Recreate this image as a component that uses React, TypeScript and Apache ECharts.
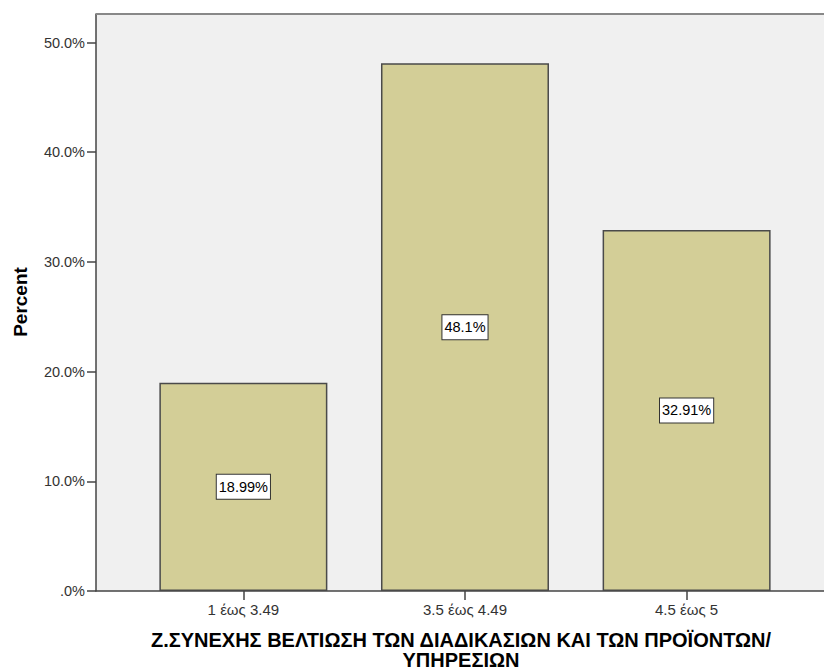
import React, { useEffect, useRef } from "react";
import * as echarts from "echarts";

const categories = ["1 έως 3.49", "3.5 έως 4.49", "4.5 έως 5"];
const percentValues = [18.99, 48.1, 32.91];
const valueLabels = ["18.99%", "48.1%", "32.91%"];
const xTitle = "Ζ.ΣΥΝΕΧΗΣ ΒΕΛΤΙΩΣΗ ΤΩΝ ΔΙΑΔΙΚΑΣΙΩΝ ΚΑΙ ΤΩΝ ΠΡΟΪΟΝΤΩΝ/\nΥΠΗΡΕΣΙΩΝ";
const yTitle = "Percent";

const FONT = "'Liberation Sans', Arial, sans-serif";

export default function App() {
  const ref = useRef<HTMLDivElement>(null);

  useEffect(() => {
    if (!ref.current) return;
    const chart = echarts.init(ref.current, undefined, { renderer: "svg" });
    const positions = categories.map((_, i) => i + 1);
    chart.setOption({
      animation: false,
      grid: {
        left: 96,
        right: -3,
        top: 14,
        bottom: 80,
        show: true,
        backgroundColor: "#f0f0f0",
        borderWidth: 0,
      },
      xAxis: {
        type: "value",
        min: 0.335,
        max: 3.62,
        splitLine: { show: false },
        axisLine: { show: true, lineStyle: { color: "#444", width: 1.5 } },
        axisTick: {
          show: true,
          customValues: positions,
          length: 9,
          lineStyle: { color: "#444", width: 1.5 },
        },
        axisLabel: {
          customValues: positions,
          formatter: (v: number) => categories[Math.round(v) - 1] ?? "",
          color: "#333",
          fontFamily: FONT,
          fontSize: 15,
          margin: 11,
        },
      },
      yAxis: {
        type: "value",
        min: 0,
        max: 52.6,
        interval: 10,
        splitLine: { show: false },
        axisLine: { show: true, lineStyle: { color: "#444", width: 1.5 } },
        axisTick: {
          show: true,
          length: 9,
          lineStyle: { color: "#444", width: 1.5 },
        },
        axisLabel: {
          showMaxLabel: false,
          formatter: (v: number) => (v === 0 ? ".0%" : v.toFixed(1) + "%"),
          color: "#333",
          fontFamily: FONT,
          fontSize: 14.5,
          margin: 11,
        },
      },
      series: [
        {
          type: "bar",
          barWidth: 168,
          data: percentValues.map((v, i) => [positions[i], v]),
          itemStyle: {
            color: "#d3ce97",
            borderColor: "#4a4a4a",
            borderWidth: 1.5,
          },
          label: {
            show: true,
            position: "inside",
            formatter: (p: any) => valueLabels[p.dataIndex],
            color: "#000",
            fontFamily: FONT,
            fontSize: 14.5,
            backgroundColor: "#fff",
            borderColor: "#333",
            borderWidth: 1,
            padding: [5, 2, 4, 2],
          },
        },
      ],
      graphic: [
        {
          type: "line",
          shape: { x1: 96, y1: 14, x2: 824, y2: 14 },
          style: { stroke: "#888", lineWidth: 2 },
          z: 10,
        },
        {
          type: "text",
          x: 461,
          y: 630,
          style: {
            text: xTitle,
            fontFamily: FONT,
            fontSize: 20,
            fontWeight: "bold",
            fill: "#000",
            textAlign: "center",
            lineHeight: 20,
          },
        },
        {
          type: "text",
          x: 20,
          y: 302,
          rotation: Math.PI / 2,
          style: {
            text: yTitle,
            fontFamily: FONT,
            fontSize: 19,
            fontWeight: "bold",
            fill: "#000",
            textAlign: "center",
            textVerticalAlign: "middle",
          },
        },
      ],
    });
    return () => chart.dispose();
  }, []);

  return (
    <div
      ref={ref}
      style={{ position: "fixed", left: 0, top: 0, width: 824, height: 671, background: "#fff" }}
    />
  );
}
